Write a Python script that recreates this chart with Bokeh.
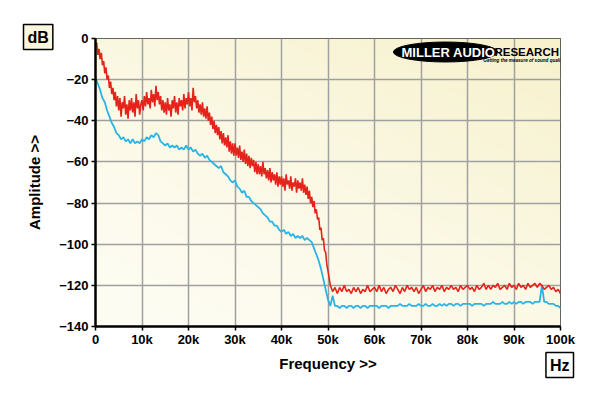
import numpy as np
from bokeh.plotting import figure
from bokeh.models import Label, Range1d, FixedTicker, Title
from bokeh.embed import file_html
from bokeh.resources import INLINE

# ---------------- data ----------------
# red trace: 0 - 49.75 kHz every 0.25 kHz, then 50 - 100 kHz every 0.5 kHz
red_freq_khz = np.concatenate([np.arange(0, 50, 0.25), np.arange(50, 100.5, 0.5)])
red_db = [
    -4, -2, -8, -5, -10, -7, -13, -11, -17, -14, -20, -18, -24, -21, -27, -24, -30, -26, -33, -28,   # 0-4.75k
    -35, -29, -38, -31, -34, -28, -37, -32, -39, -30, -35, -29, -36, -31, -38, -27, -34, -30, -37, -32,  # 5k
    -30, -35, -28, -33, -26, -32, -29, -34, -25, -31, -27, -33, -23, -30, -26, -32, -28, -35, -30, -36,  # 10k
    -31, -37, -29, -35, -32, -38, -30, -34, -28, -36, -31, -37, -29, -33, -30, -35, -27, -34, -29, -32,  # 15k
    -26, -33, -29, -35, -24, -31, -28, -34, -30, -36, -32, -37, -31, -38, -34, -39, -33, -40, -36, -42,  # 20k
    -38, -44, -40, -46, -42, -47, -43, -49, -45, -51, -46, -52, -48, -53, -47, -55, -50, -56, -51, -57,  # 25k
    -51, -57, -53, -58, -52, -59, -55, -60, -54, -61, -56, -62, -57, -63, -58, -62, -59, -65, -60, -66,  # 30k
    -61, -66, -62, -67, -60, -66, -63, -68, -64, -69, -63, -70, -65, -69, -66, -71, -65, -72, -67, -71,  # 35k
    -67, -72, -68, -74, -66, -71, -69, -73, -67, -74, -70, -72, -68, -75, -69, -73, -70, -74, -68, -75,  # 40k
    -71, -76, -72, -78, -74, -80, -77, -82, -79, -85, -83, -88, -87, -93, -92, -98, -97, -103, -104, -110,  # 45k
    -113, -120, -123, -121, -124, -121, -123, -120, -123, -122,  # 50 - 54.5k
    -124, -121, -123, -121, -124, -122, -123, -120, -123, -122,  # 55 - 59.5k
    -121, -123, -120, -123, -121, -124, -122, -121, -123, -120,  # 60 - 64.5k
    -122, -124, -121, -123, -120, -122, -121, -123, -121, -124,  # 65 - 69.5k
    -122, -120, -123, -121, -122, -120, -123, -121, -122, -120,  # 70 - 74.5k
    -123, -121, -122, -120, -122, -121, -123, -120, -122, -121,  # 75 - 79.5k
    -120, -122, -121, -123, -120, -122, -121, -119, -122, -120,  # 80 - 84.5k
    -122, -120, -121, -119, -122, -121, -120, -122, -119, -121,  # 85 - 89.5k
    -120, -122, -119, -121, -120, -122, -119, -121, -120, -119,  # 90 - 94.5k
    -121, -119, -120, -122, -121, -120, -122, -121, -123, -122,  # 95 - 99.5k
    -124,                                                         # 100k
]

# blue trace: 0 - 100 kHz every 0.5 kHz
blue_freq_khz = np.arange(0, 100.5, 0.5)
blue_db = [
    -19, -22, -25, -29, -31, -35, -38, -41, -43, -46,         # 0 - 4.5k
    -47, -49, -48, -50, -49, -51, -49, -51, -50, -51,         # 5 - 9.5k
    -49, -50, -48, -49, -47, -48, -46, -47, -50, -51,         # 10 - 14.5k
    -52, -51, -53, -52, -53, -52, -54, -53, -54, -52,         # 15 - 19.5k
    -54, -53, -55, -54, -56, -57, -56, -58, -57, -59,         # 20 - 24.5k
    -60, -61, -62, -63, -62, -65, -66, -67, -69, -70,         # 25 - 29.5k
    -69, -72, -73, -75, -74, -77, -77, -79, -80, -81,         # 30 - 34.5k
    -82, -83, -85, -86, -87, -89, -89, -91, -91, -93,         # 35 - 39.5k
    -94, -93, -95, -94, -96, -95, -97, -96, -97, -96,         # 40 - 44.5k
    -98, -97, -98, -99, -102, -105, -108, -112, -117, -122,   # 45 - 49.5k
    -127, -130, -125, -130, -130, -131, -130, -130, -131, -130,  # 50 - 54.5k
    -130, -131, -130, -130, -131, -130, -130, -131, -130, -130,  # 55 - 59.5k
    -130, -130, -131, -130, -130, -130, -131, -130, -130, -130,  # 60 - 64.5k
    -130, -129, -130, -130, -130, -129, -130, -130, -130, -129,  # 65 - 69.5k
    -130, -130, -129, -130, -130, -129, -130, -130, -129, -130,  # 70 - 74.5k
    -129, -130, -129, -129, -130, -129, -129, -130, -129, -129,  # 75 - 79.5k
    -129, -129, -130, -129, -129, -129, -129, -130, -129, -129,  # 80 - 84.5k
    -129, -128, -129, -129, -129, -128, -129, -129, -128, -129,  # 85 - 89.5k
    -128, -129, -128, -128, -129, -128, -128, -128, -129, -128,  # 90 - 94.5k
    -128, -128, -120, -128, -128, -129, -129, -129, -130, -130,  # 95 - 99.5k
    -131,                                                         # 100k
]

x_ticks = [0, 10, 20, 30, 40, 50, 60, 70, 80, 90, 100]
x_tick_labels = ["0", "10k", "20k", "30k", "40k", "50k", "60k", "70k", "80k", "90k", "100k"]
y_ticks = [0, -20, -40, -60, -80, -100, -120, -140]

RED = "#E4231B"
BLUE = "#2AB4E6"
FONT = "Liberation Sans"

# ---------------- figure ----------------
p = figure(width=600, height=396, output_backend="svg", toolbar_location=None,
           x_range=Range1d(0, 100), y_range=Range1d(-140, 0),
           min_border_left=95, min_border_right=40, min_border_top=38,
           min_border_bottom=70)
p.border_fill_color = "white"
p.background_fill_color = "#FCF9E6"
p.outline_line_color = "#333333"
p.outline_line_width = 1

# soft cream -> yellow background gradient (decoration)
ny, nx = 60, 100
yy, xx = np.mgrid[0:ny, 0:nx]
t = np.clip(0.55 * (yy / (ny - 1)) + 0.45 * (xx / (nx - 1)), 0, 1) ** 1.3
c0 = np.array([254, 253, 244])
c1 = np.array([247, 241, 204])
img = np.empty((ny, nx), dtype=np.uint32)
view = img.view(dtype=np.uint8).reshape((ny, nx, 4))
for k in range(3):
    view[:, :, k] = (c0[k] + (c1[k] - c0[k]) * t).astype(np.uint8)
view[:, :, 3] = 255
bg = p.image_rgba(image=[img], x=0, y=-140, dw=100, dh=140)
bg.level = "image"

# grid
p.xgrid.ticker = FixedTicker(ticks=x_ticks)
p.ygrid.ticker = FixedTicker(ticks=y_ticks)
p.grid.grid_line_color = "#A0A0A0"
p.grid.grid_line_width = 1.5

# axes
p.xaxis.ticker = FixedTicker(ticks=x_ticks)
p.yaxis.ticker = FixedTicker(ticks=y_ticks)
p.xaxis.major_label_overrides = {t_: l_ for t_, l_ in zip(x_ticks, x_tick_labels)}
for ax in (p.xaxis[0], p.yaxis[0]):
    ax.axis_line_color = "black"
    ax.axis_line_width = 2.5
    ax.major_tick_in = 0
    ax.major_tick_out = 4
    ax.major_tick_line_color = "black"
    ax.major_tick_line_width = 1.5
    ax.minor_tick_line_color = None
    ax.major_label_text_font = FONT
    ax.major_label_text_font_style = "bold"
    ax.major_label_text_font_size = "13px"
    ax.major_label_text_color = "black"
    ax.axis_label_text_font = FONT
    ax.axis_label_text_font_style = "bold"
    ax.axis_label_text_font_size = "15px"
    ax.axis_label_text_color = "black"
p.xaxis.major_label_standoff = 1
p.yaxis.major_label_standoff = 3
p.xaxis.axis_label = "Frequency >>"
p.yaxis.axis_label = "Amplitude >>"
p.xaxis.axis_label_standoff = 5
p.yaxis.axis_label_standoff = 13

# traces
p.line(blue_freq_khz, blue_db, line_color=BLUE, line_width=1.8)
p.line(red_freq_khz, red_db, line_color=RED, line_width=1.6)

# unit boxes (titles are drawn in the side panels, outside the plot frame)
p.add_layout(Title(text="dB", align="left", offset=-72, vertical_align="bottom",
                   standoff=-22, text_font=FONT, text_font_style="bold",
                   text_font_size="16px", text_color="black",
                   background_fill_color="#FBF7DF", border_line_color="black",
                   border_line_width=1.5, padding=4), "above")
p.add_layout(Title(text="Hz", align="right", offset=-13, vertical_align="top",
                   standoff=-44, text_font=FONT, text_font_style="bold",
                   text_font_size="16px", text_color="black",
                   background_fill_color="white", border_line_color="black",
                   border_line_width=1.5, padding=4), "below")

# logo
p.ellipse(x=[75.27], y=[-6.56], width=[22.4], height=[9.72], fill_color="black",
          line_color="black")
p.add_layout(Label(x=75.9, y=-6.8, text="MILLER AUDIO", text_align="center",
                   text_baseline="middle", text_font=FONT, text_font_style="bold",
                   text_font_size="13px", text_color="white"))
p.add_layout(Label(x=85.8, y=-6.8, text="RESEARCH", text_align="left",
                   text_baseline="middle", text_font=FONT, text_font_style="bold",
                   text_font_size="11.5px", text_color="black"))
p.add_layout(Label(x=83.4, y=-10.6, text="Getting the measure of sound quality",
                   text_align="left", text_baseline="middle", text_font=FONT,
                   text_font_style="bold italic", text_font_size="4.6px",
                   text_color="black"))

open("out.html", "w").write(file_html(p, INLINE))
